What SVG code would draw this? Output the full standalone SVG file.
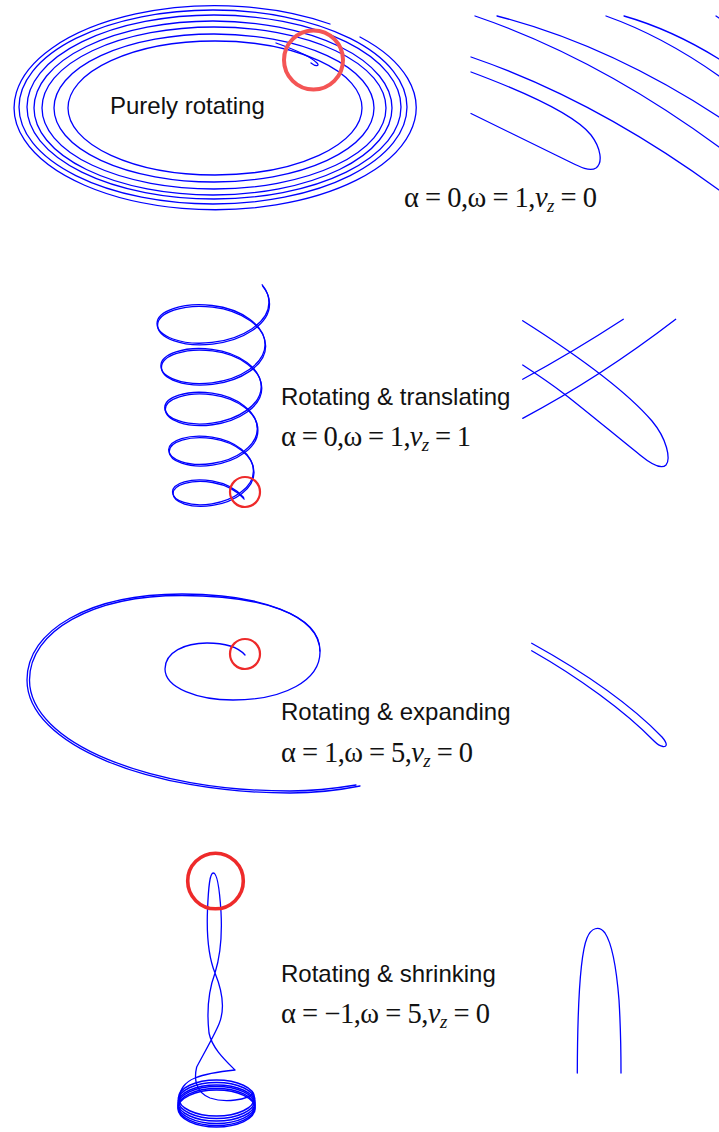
<svg xmlns="http://www.w3.org/2000/svg" width="719" height="1132" viewBox="0 0 719 1132">
<style>
.c{fill:none;stroke:#0000ff;stroke-width:1.3;stroke-linejoin:round;stroke-linecap:round}
.ct{fill:none;stroke:#0000ff;stroke-width:1.5}
.s{font-family:"Liberation Sans",Arial,sans-serif;font-size:24px;fill:#111}
.m{font-family:"Liberation Serif","Times New Roman",serif;font-size:28.5px;fill:#111}
.i{font-style:italic}
.sub{font-style:italic;font-size:19px}
</style>
<rect width="719" height="1132" fill="#fff"/>

<g id="panel-rotating">
  <g id="rotating-curve">
    <path class="c" d="M360,37 A201,102 0 1,1 330,24"/>
    <ellipse class="c" cx="213" cy="107" rx="194" ry="97"/>
    <ellipse class="c" cx="214" cy="107" rx="187" ry="92"/>
    <ellipse class="c" cx="213" cy="108" rx="179" ry="87"/>
    <ellipse class="c" cx="214" cy="108" rx="172" ry="81"/>
    <ellipse class="c" cx="214" cy="108" rx="160" ry="74"/>
    <ellipse class="c" cx="215" cy="108" rx="147" ry="67"/>
    <path class="c" d="M276,43 C296,50 310,56 317,63 C320,66 316,67 311,63"/>
  </g>
  <circle id="rotating-marker" cx="313.5" cy="60" r="29.5" fill="none" stroke="#f45555" stroke-width="4"/>
  <text class="s" x="110" y="114">Purely rotating</text>
  <g id="rotating-zoom">
    <path class="c" d="M475,16 Q597,57.5 719,147"/>
    <path class="c" d="M497,16 Q608,44.5 719,117"/>
    <path class="c" d="M606,16 Q662.5,36 719,76"/>
    <path class="c" d="M624,16 Q671.5,29.5 719,59"/>
    <path class="c" d="M716,16 L719,18"/>
    <path class="c" d="M471,57 Q595,99.5 719,190"/>
    <path class="c" d="M471,72 C530,94 575,115 591,135 C601,148 603,163 596,168 C590,172 580,167 570,162 L471,113.5"/>
  </g>
  <text class="m" x="404" y="207" textLength="193">α = 0,ω = 1,<tspan class="i">v</tspan><tspan class="sub" dy="5">z</tspan><tspan dy="-5"> = 0</tspan></text>
</g>

<g id="panel-translating">
  <g id="translating-curve">
    <path id="helix" class="c" d="M262.2,284.8 C266.8,290.3 268.94,296.4 268.94,302.5 C268.94,322.51 242.91,338.95 212,342.46 C181.09,345.97 157,336.06 157,323.55 C157,311.04 182.16,302 212,305.51 C241.84,309.02 265.06,325.55 265.06,344.6 C265.06,363.65 240.77,379.3 212,382.81 C183.23,386.32 160.88,377.18 160.88,365.64 C160.88,354.1 184.3,345.85 212,349.36 C239.7,352.87 261.18,368.61 261.18,386.69 C261.18,404.77 238.63,419.65 212,423.16 C185.37,426.67 164.75,418.31 164.75,407.74 C164.75,397.17 186.44,389.69 212,393.2 C237.56,396.71 257.31,411.68 257.31,428.79 C257.31,445.9 236.49,459.99 212,463.5 C187.51,467.01 168.63,459.45 168.63,449.84 C168.63,440.23 188.58,433.54 212,437.05 C235.42,440.56 253.43,454.73 253.43,470.88 C253.43,487.03 234.35,500.34 212,503.85 C189.65,507.36 172.51,500.57 172.51,491.93 C172.51,483.29 190.73,477.39 212,480.9 C224.7,483.1 236.8,489.4 243.6,497.5"/>
    <path class="c" transform="translate(0.6,1.6)" d="M262.2,284.8 C266.8,290.3 268.94,296.4 268.94,302.5 C268.94,322.51 242.91,338.95 212,342.46 C181.09,345.97 157,336.06 157,323.55 C157,311.04 182.16,302 212,305.51 C241.84,309.02 265.06,325.55 265.06,344.6 C265.06,363.65 240.77,379.3 212,382.81 C183.23,386.32 160.88,377.18 160.88,365.64 C160.88,354.1 184.3,345.85 212,349.36 C239.7,352.87 261.18,368.61 261.18,386.69 C261.18,404.77 238.63,419.65 212,423.16 C185.37,426.67 164.75,418.31 164.75,407.74 C164.75,397.17 186.44,389.69 212,393.2 C237.56,396.71 257.31,411.68 257.31,428.79 C257.31,445.9 236.49,459.99 212,463.5 C187.51,467.01 168.63,459.45 168.63,449.84 C168.63,440.23 188.58,433.54 212,437.05 C235.42,440.56 253.43,454.73 253.43,470.88 C253.43,487.03 234.35,500.34 212,503.85 C189.65,507.36 172.51,500.57 172.51,491.93 C172.51,483.29 190.73,477.39 212,480.9 C224.7,483.1 236.8,489.4 243.6,497.5"/>
  </g>
  <circle id="translating-marker" cx="245" cy="492" r="15" fill="none" stroke="#ee2a2a" stroke-width="2.2"/>
  <text class="s" x="281" y="405">Rotating &amp; translating</text>
  <text class="m" x="281" y="446" textLength="190">α = 0,ω = 1,<tspan class="i">v</tspan><tspan class="sub" dy="5">z</tspan><tspan dy="-5"> = 1</tspan></text>
  <g id="translating-zoom">
    <path class="c" d="M522.7,320.7 C580,357 628,393 652,421 C667,439 671,459 666,465 C661,470 651,464 640,455 C615,435 585,410 565,394.5 C550,383 535,373 522.7,365"/>
    <path class="c" d="M522.7,379.3 Q573,352 623.3,319.3"/>
    <path class="c" d="M522.7,418.3 Q599.2,378 675.7,319.3"/>
  </g>
</g>

<g id="panel-expanding">
  <g id="expanding-curve">
    <path class="c" stroke-width="1.8" d="M245,655 C238,647 225,643 207,643 C185,643 165,652 165,669 C165,688 198,700 233,700 C285,700 320,680 320,652 C320,615 260,594 182,594 C90,594 27,630 27,680 C27,745 150,793 290,793 C320,793 340,790 360,786"/>
    <path class="c" d="M320,651 C320,614 260,595.5 182,595.5 C92,595.5 29.5,631 29.5,680 C29.5,743 150,791 290,791 C318,791 338,788 356,785"/>
  </g>
  <circle id="expanding-marker" cx="245" cy="654" r="15" fill="none" stroke="#ee2a2a" stroke-width="2.2"/>
  <text class="s" x="281" y="720">Rotating &amp; expanding</text>
  <text class="m" x="281" y="762" textLength="192">α = 1,ω = 5,<tspan class="i">v</tspan><tspan class="sub" dy="5">z</tspan><tspan dy="-5"> = 0</tspan></text>
  <g id="expanding-zoom">
    <path class="c" d="M531.7,643.3 C580,670 630,704 662,737 C668,744 667,747 663,746.5 C660,746 657,744 654,741 C625,711 578,677 531.7,650.7"/>
  </g>
</g>

<g id="panel-shrinking">
  <g id="shrinking-curve">
    <ellipse class="ct" cx="216.5" cy="1098" rx="38" ry="18"/>
    <ellipse class="ct" cx="216.5" cy="1100.5" rx="38.3" ry="18"/>
    <ellipse class="ct" cx="216.5" cy="1103" rx="38.5" ry="18"/>
    <ellipse class="ct" cx="216.5" cy="1105" rx="38.5" ry="18.5"/>
    <ellipse class="ct" cx="216.5" cy="1107" rx="38.5" ry="18.5"/>
    <ellipse class="ct" cx="216.5" cy="1108.5" rx="38.5" ry="18.5"/>
    <path class="c" d="M253,1093 C248,1100 225,1103 210,1098 C195,1092 194,1078 196.7,1067 C203,1055 214,1036 219,1024 C224,1012 224,995 215,973 C209,958 206.5,935 207.5,910 C208.5,885 210,873 213.3,873 C217,873 219.5,888 221,912 C222.5,940 220,957 215,973 C208,992 207,1015 209,1033 C212,1048 225,1060 235,1070 C225,1071 207,1073 195,1078 C185,1082 179,1090 180,1098"/>
  </g>
  <circle id="shrinking-marker" cx="215.5" cy="881" r="27.8" fill="none" stroke="#ee2a2a" stroke-width="3.6"/>
  <text class="s" x="281" y="982">Rotating &amp; shrinking</text>
  <text class="m" x="281" y="1023" textLength="209">α = −1,ω = 5,<tspan class="i">v</tspan><tspan class="sub" dy="5">z</tspan><tspan dy="-5"> = 0</tspan></text>
  <g id="shrinking-zoom">
    <path class="c" stroke-width="1.5" d="M577.3,1073 C577.5,1010 580,955 587,938 C591,928 599,925 605,933 C613,945 617,975 619,1000 C620.5,1025 621,1050 621,1073"/>
  </g>
</g>
</svg>
